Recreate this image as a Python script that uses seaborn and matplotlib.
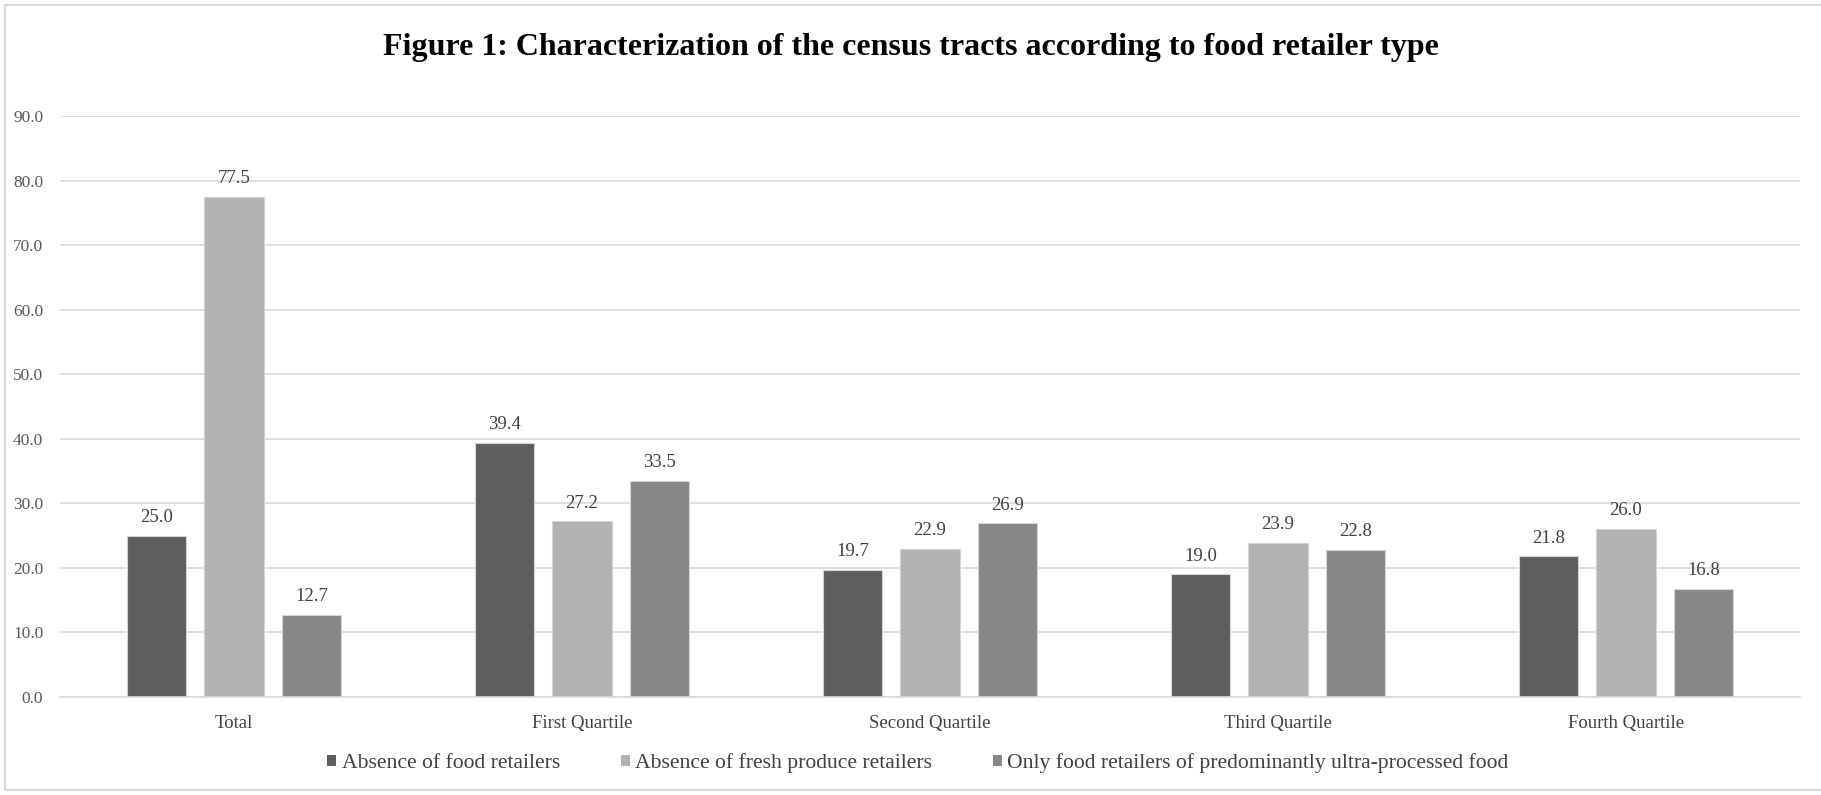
import matplotlib
matplotlib.use("Agg")
import matplotlib.pyplot as plt
from matplotlib.patches import Patch, Rectangle
import seaborn as sns
import pandas as pd

# Census-tract groups and the share (%) of tracts in each situation
groups = ["Total", "First Quartile", "Second Quartile", "Third Quartile", "Fourth Quartile"]
series = [
    "Absence of food retailers",
    "Absence of fresh produce retailers",
    "Only food retailers of predominantly ultra-processed food",
]
absence_food = [25.0, 39.4, 19.7, 19.0, 21.8]
absence_fresh = [77.5, 27.2, 22.9, 23.9, 26.0]
only_ultra = [12.7, 33.5, 26.9, 22.8, 16.8]
y_ticks = [0, 10, 20, 30, 40, 50, 60, 70, 80, 90]

colors = ["#5e5e5e", "#b2b2b2", "#878787"]

df = pd.DataFrame({
    "group": groups * 3,
    "series": [s for s in series for _ in groups],
    "value": absence_food + absence_fresh + only_ultra,
})

sns.set_theme(style="white")
plt.rcParams["font.family"] = ["Liberation Serif", "DejaVu Serif"]

W, H = 1821, 795
fig = plt.figure(figsize=(W / 100, H / 100), dpi=100)
ax = fig.add_axes([60 / W, 1 - 697 / H, 1740 / W, 581 / H])

sns.barplot(
    data=df, x="group", y="value", hue="series",
    order=groups, hue_order=series, palette=colors,
    width=0.668, gap=0.226, saturation=1,
    edgecolor="#d4d4d4", linewidth=0.8,
    legend=False, ax=ax,
)

for cont in ax.containers:
    ax.bar_label(cont, fmt="%.1f", padding=7, fontsize=13.5, color="#404040")

ax.set_ylim(0, 90)
ax.set_xlim(-0.5, len(groups) - 0.5)
ax.set_yticks(y_ticks)
ax.set_yticklabels([f"{v:.1f}" for v in y_ticks], fontsize=12.5, color="#595959")
ax.tick_params(axis="y", length=0, pad=12)
ax.tick_params(axis="x", length=0, pad=13, labelsize=13.5, labelcolor="#404040")
ax.set_xlabel("")
ax.set_ylabel("")
ax.yaxis.grid(True, color="#d9d9d9", linewidth=1.2)
ax.set_axisbelow(True)
for side in ["top", "right", "left"]:
    ax.spines[side].set_visible(False)
ax.spines["bottom"].set_color("#d9d9d9")
ax.spines["bottom"].set_linewidth(1.2)

fig.text(0.5, 1 - 47 / H, "Figure 1: Characterization of the census tracts according to food retailer type",
         ha="center", va="center", fontsize=23, fontweight="bold", color="black")

handles = [Patch(facecolor=c, edgecolor="none") for c in colors]
fig.legend(handles, series, loc="center", bbox_to_anchor=(0.504, 1 - 763 / H),
           ncol=3, frameon=False, fontsize=15.6, handlelength=0.42, handleheight=0.42,
           handletextpad=0.25, columnspacing=2.8, labelcolor="#404040")

# Light outer frame
fig.patches.append(Rectangle((5 / W, 5 / H), 1.2, 1 - 10 / H, transform=fig.transFigure,
                             fill=False, edgecolor="#d9d9d9", linewidth=1.5))

fig.savefig("out.png", dpi=100)
